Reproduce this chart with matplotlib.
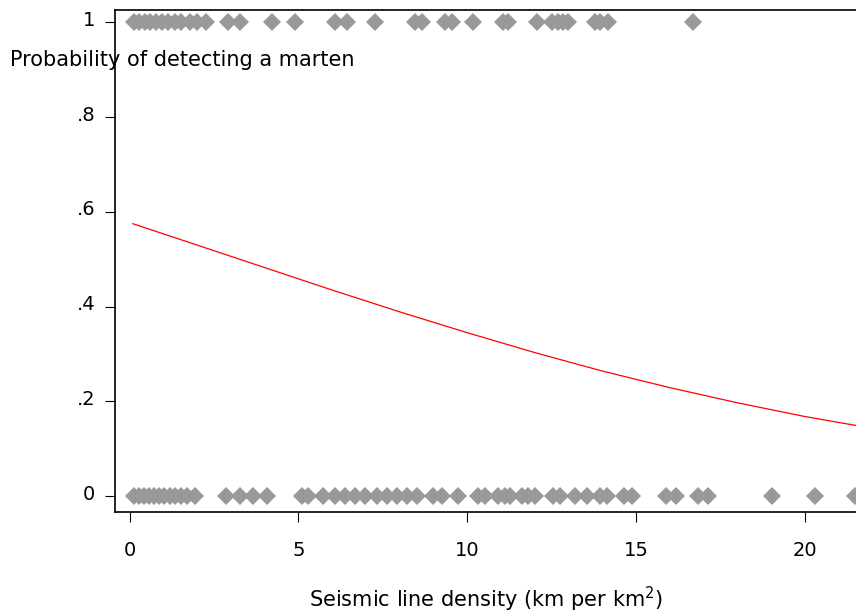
import matplotlib
matplotlib.use("Agg")
import matplotlib.pyplot as plt
import matplotlib.transforms as mtransforms

# Seismic line density (km per km^2) at sites where a marten was detected (1)
detected_x = [0.13, 0.28, 0.46, 0.61, 0.78, 0.96, 1.14, 1.35, 1.53, 1.80, 2.00, 2.27,
              2.92, 3.27, 4.22, 4.90, 6.09, 6.45, 7.27, 8.46, 8.66, 9.35, 9.55,
              10.18, 11.06, 11.21, 12.07, 12.51, 12.69, 12.84, 12.99, 13.79, 13.94,
              14.17, 16.69]

# ... and where no marten was detected (0)
absent_x = [0.13, 0.28, 0.43, 0.58, 0.73, 0.87, 1.02, 1.20, 1.35, 1.53, 1.70, 1.94,
            2.86, 3.27, 3.66, 4.07,
            5.10, 5.28, 5.73, 6.09, 6.38, 6.68, 6.98, 7.33, 7.63, 7.92, 8.22, 8.51,
            8.99, 9.26, 9.73, 10.32, 10.53, 10.92, 11.12, 11.27, 11.63, 11.80, 12.01,
            12.54, 12.75, 13.19, 13.55, 13.94, 14.14, 14.65, 14.88,
            15.89, 16.19, 16.84, 17.13, 19.03, 20.31, 21.49]

# Fitted probability of detection along the density gradient
fit_x = [0.1, 2, 4, 6, 8, 10, 12, 14, 16, 18, 20, 21.6]
fit_p = [0.575, 0.530, 0.4825, 0.435, 0.389, 0.345, 0.303, 0.264, 0.229, 0.197, 0.168, 0.148]

xticks = [0, 5, 10, 15, 20]
yticks = [0, 0.2, 0.4, 0.6, 0.8, 1]
ytick_labels = ["0", ".2", ".4", ".6", ".8", "1"]

W, H = 856, 613
fig = plt.figure(figsize=(W / 100, H / 100), dpi=100)
fig.patch.set_facecolor("white")
plt.rcParams["font.family"] = ["DejaVu Sans"]

left, right, top, bottom = 115, 856, 10, 512
ax = fig.add_axes([left / W, (H - bottom) / H, (right - left) / W, (bottom - top) / H])

marker_kw = dict(marker="D", linestyle="none", color="#999999", markersize=9,
                 markeredgewidth=0, zorder=2)
ax.plot(detected_x, [1] * len(detected_x), **marker_kw)
ax.plot(absent_x, [0] * len(absent_x), **marker_kw)
ax.plot(fit_x, fit_p, color="#ff0000", linewidth=0.9, zorder=3)

ax.set_xlim(-0.43, 21.52)
ax.set_ylim(-0.0337, 1.0263)

ax.set_xticks(xticks)
ax.set_xticklabels([str(t) for t in xticks])
ax.set_yticks(yticks)
ax.set_yticklabels(ytick_labels)

ax.tick_params(axis="both", direction="out", length=7.2, width=0.8, color="black",
               labelsize=14, labelcolor="black")
ax.tick_params(axis="x", pad=14)
ax.tick_params(axis="y", pad=7)

for lbl in ax.get_yticklabels():
    lbl.set_transform(lbl.get_transform() +
                      mtransforms.ScaledTranslation(0, 4 / 100, fig.dpi_scale_trans))

for side in ("left", "top", "bottom"):
    ax.spines[side].set_linewidth(1.2)
    ax.spines[side].set_color("black")
ax.spines["right"].set_visible(False)

fig.text(10 / W, 1 - 60 / H, "Probability of detecting a marten", fontsize=15,
         ha="left", va="center", color="black")
fig.text(486 / W, 1 - 607 / H, "Seismic line density (km per km$^2$)", fontsize=15,
         ha="center", va="baseline", color="black")

fig.savefig("out.png", dpi=100, facecolor="white")
